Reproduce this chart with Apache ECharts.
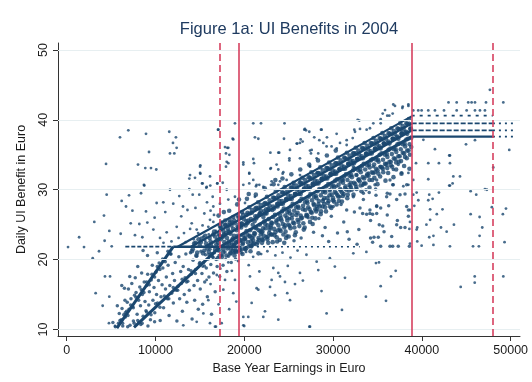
<!DOCTYPE html>
<html>
<head>
<meta charset="utf-8">
<script src="https://cdn.jsdelivr.net/npm/echarts@6/dist/echarts.min.js"></script>
<style>
  html, body { margin: 0; padding: 0; background: #ffffff; }
  #chart { width: 532px; height: 382px; }
</style>
</head>
<body>
<div id="chart"></div>
<script>
// Axis ticks
const xTicks = [0, 10000, 20000, 30000, 40000, 50000];
const yTicks = [10, 20, 30, 40, 50];

// Earnings thresholds (vertical reference lines)
const cutoffsSolid = [19400, 38850];
const cutoffsDashed = [17200, 48000];

// Benefit schedule segments [earnings, daily benefit]
const lowerSlopeA = [[5650, 10.2], [12000, 21.85]];
const lowerSlopeB = [[7580, 10.3], [17300, 21.85]];
const floorRowCore = [[12000, 21.85], [19400, 21.85]];
const floorRowLeft = [[6600, 21.85], [12000, 21.85]];
const floorRowRight = [[19400, 21.85], [33000, 21.85]];
const band1 = [[17300, 21.85], [38850, 37.6]];
const band2 = [[15600, 21.85], [38850, 38.5]];
const band3 = [[14000, 21.85], [38850, 39.5]];
const band4 = [[12500, 21.85], [38850, 40.5]];
const capLevels = [37.6, 38.5, 39.5, 40.6];
const capStart = 38850, capEnd = 48000, capTail = 50600;

// Individual observations [earnings, daily benefit]
const farLeft = [[150,21.8],[1400,23.2],[1950,21.8],[2930,20.2],[3110,25.4],[3260,15.2],[3640,21.2],[4050,13.4],[4200,26.3],[4270,22.7],[4310,17.6],[4430,33.7],[4500,29.3],[4800,24.1],[4800,14.7],[4880,17.6],[4760,10.9],[5440,10.5]];

const lowerWedge = [[5200,11.0],[5480,10.4],[5830,10.9],[5920,12.3],[6140,11.4],[6230,13.0],[6310,10.5],[6420,12.1],[6560,14.2],[6610,11.8],[6740,12.6],[6820,13.9],[6950,15.8],[7010,12.9],[7130,10.6],[7240,14.4],[7330,16.6],[7420,13.3],[7510,11.2],[7640,14.9],[7720,17.4],[7810,15.3],[7930,12.2],[8020,14.6],[8140,11.0],[8230,16.1],[8310,13.4],[8440,18.1],[8520,15.0],[8610,11.9],[8730,16.8],[8820,14.0],[8930,12.7],[9010,16.3],[9120,17.9],[9240,13.5],[9310,15.4],[9430,11.4],[9520,17.1],[9640,19.2],[9710,14.2],[9830,16.0],[9920,12.4],[10040,18.2],[10120,15.0],[10230,13.8],[10340,17.0],[10410,19.5],[10530,11.3],[10620,14.7],[10740,16.4],[10830,18.8],[10910,13.1],[11040,20.0],[11130,15.8],[11220,17.5],[11340,14.4],[11420,19.2],[11530,12.0],[11610,16.3],[11740,20.8],[11820,15.2],[11930,18.0],[12010,13.8],[12140,17.0],[12220,19.6],[12330,15.6],[12410,11.2],[12540,16.2],[12630,20.4],[12720,14.4],[12840,18.3],[12910,16.6],[13030,12.6],[13120,19.0],[13240,15.0],[13330,17.4],[13420,20.8],[13530,13.9],[13640,16.9],[13720,18.6],[13810,15.6],[13940,21.0],[14030,17.9],[14120,11.5],[14230,19.9],[14340,16.3],[14410,14.2],[14520,18.6],[14630,20.5],[14740,17.0],[14820,12.9],[14930,19.4],[15040,15.8],[15120,21.2],[15230,18.0],[15310,13.6],[15420,19.6],[15540,16.8],[15630,20.7],[15720,18.8],[15840,14.7],[15930,20.1],[16020,17.5],[16140,21.5],[16230,19.3],[16310,12.2],[16420,20.4],[16530,18.1],[16640,21.0],[16720,15.4],[16830,20.0],[16940,19.0],[17020,21.3],[17230,17.6],[17420,20.6],[17610,19.2],[17830,21.1],[18040,18.3],[18220,20.5],[18530,19.6],[18840,21.0],[19020,20.1],[19330,21.2],[6870,10.4],[7600,10.9],[8350,10.7],[9150,10.5],[9900,11.1],[6500,15.9],[7100,17.6],[5700,13.4],[6200,16.3],[8000,19.0],[9100,20.6],[10200,21.0],[8600,21.3]];

// Observations sitting right on the two lower schedule slopes
const slopeFuzz = [[6000,11.3],[6300,10.9],[6600,12.4],[6900,12.0],[7200,13.5],[7500,13.1],[7800,14.6],[8100,14.2],[8400,15.7],[8700,15.3],[9000,16.8],[9300,16.4],[9600,17.9],[9900,17.5],[10200,19.0],[10500,18.6],[10800,20.1],[11100,19.7],[11400,21.2],[11700,20.8],
[8000,11.3],[8500,10.9],[9000,12.5],[9500,12.1],[10000,13.7],[10500,13.2],[11000,14.8],[11500,14.4],[12000,16.0],[12500,15.6],[13000,17.2],[13500,16.8],[14000,18.4],[14500,18.0],[15000,19.6],[15500,19.1],[16000,20.7],[16500,20.3],[17000,21.8]];

const upperLeft = [[6000,37.5],[6940,38.5],[8930,38.0],[11550,38.3],[12300,37.5],[11970,36.7],[12380,36.0],[9270,35.4],[11630,35.2],[12120,35.2],[8030,33.6],[8850,33.1],[9490,33.1],[10090,32.9],[15050,33.5],[13890,32.1],[14450,31.7],[15050,32.3],[16140,31.9],[8740,30.6],[15240,30.9],[15720,30.3],[16170,30.6],[13810,31.6],[8700,30.7],[7020,29.2],[8370,29.5],[11630,30.0],[12680,29.1],[13810,30.1],[14190,29.3],[14930,29.3],[15310,30.9],[15770,30.4],[6190,28.4],[6680,27.6],[10130,28.1],[10880,28.2],[8930,26.9],[6080,23.7],[7210,25.2],[8180,25.1],[9080,25.3],[7690,23.5],[8520,23.2],[9760,24.3],[10510,23.1],[11260,23.9],[12390,24.7],[13210,23.8],[14080,25.2],[14640,24.3],[15390,23.3],[15950,24.7],[16510,25.4],[5070,21.9],[15020,33.3],[15020,32.4],[16140,25.7],[16510,27.6],[16590,26.4],[16440,29.0],[16960,30.9],[17040,38.6],[11800,22.6],[12600,23.1],[13400,22.5],[13900,24.4],[14300,22.9],[14800,23.8],[15300,24.9],[15600,22.7],[16000,23.6],[16400,22.4],[16800,24.1],[10900,22.4],[9900,26.0],[11100,26.8],[12900,26.2],[13600,27.1],[14500,27.4],[15500,26.6],[15800,28.2],[16200,27.0],[7400,27.0],[12000,28.0],[13100,27.6]];

const bandCore = [[17050,22.4],[17150,23.6],[17250,24.8],[17350,22.9],[17450,25.3],[17550,23.2],[17650,24.1],[17750,22.5],[17850,25.6],[17950,23.8],[17100,26.3],[17700,26.8],
[18050,23.1],[18150,24.4],[18250,22.6],[18350,25.7],[18450,23.7],[18550,24.9],[18650,22.8],[18750,26.1],[18850,23.4],[18950,25.2],[18300,27.0],[18700,21.3],[18900,20.6],[18400,20.9],
[19050,22.4],[19150,24.2],[19250,26.3],[19350,23.1],[19450,25.1],[19550,22.7],[19650,24.6],[19750,26.8],[19850,23.5],[19950,25.8],[19200,27.9],[19600,21.3],[19800,20.8],[19400,28.6],
[20050,22.9],[20150,24.9],[20250,26.4],[20350,23.6],[20450,25.6],[20550,27.5],[20650,24.2],[20750,22.6],[20850,26.7],[20950,25.0],[20300,28.7],[20700,21.2],[20500,29.4],
[21050,23.4],[21150,25.5],[21250,27.3],[21350,24.5],[21450,26.2],[21550,28.2],[21650,22.8],[21750,25.0],[21850,27.0],[21950,23.9],[21300,29.3],[21800,26.6],[21600,20.9],
[22050,24.0],[22150,26.1],[22250,28.0],[22350,25.1],[22450,27.2],[22550,29.0],[22650,23.3],[22750,25.8],[22850,27.7],[22950,24.6],[22300,30.2],[22700,22.4],[22500,26.6],
[23050,25.3],[23150,27.1],[23250,28.9],[23350,24.4],[23450,26.4],[23550,29.8],[23650,23.2],[23750,27.6],[23850,25.8],[23950,28.4],[23300,30.8],[23700,22.6],[23500,31.4],
[24050,26.3],[24150,28.0],[24250,29.6],[24350,25.1],[24450,27.3],[24550,30.4],[24650,24.0],[24750,28.6],[24850,26.8],[24950,29.2],[24300,31.6],[24700,23.1],[24500,22.4],
[25050,27.0],[25150,28.7],[25250,30.3],[25350,25.9],[25450,28.0],[25550,31.0],[25650,24.6],[25750,29.4],[25850,27.5],[25950,30.0],[25300,32.2],[25700,23.5],
[26050,27.6],[26150,29.4],[26250,31.0],[26350,26.3],[26450,28.7],[26550,31.7],[26650,25.2],[26750,30.1],[26850,28.2],[26950,30.6],[26300,32.9],[26700,24.3],
[27050,28.4],[27150,30.1],[27250,31.8],[27350,27.2],[27450,29.4],[27550,32.5],[27650,26.0],[27750,30.7],[27850,29.0],[27950,31.3],[27300,33.6],[27700,25.1],
[28050,29.1],[28150,30.9],[28250,32.4],[28350,27.9],[28450,30.1],[28550,33.2],[28650,26.9],[28750,31.5],[28850,29.7],[28950,32.0],[28300,34.2],
[29050,29.9],[29150,31.6],[29250,33.1],[29350,28.8],[29450,30.8],[29550,33.9],[29650,27.6],[29750,32.2],[29850,30.5],[29950,32.8],[29300,34.9],
[30050,30.6],[30150,32.3],[30250,33.8],[30350,29.5],[30450,31.5],[30550,34.6],[30650,28.4],[30750,32.9],[30850,31.2],[30950,33.5],[30300,35.6],
[31050,31.4],[31150,33.0],[31250,34.6],[31350,30.2],[31450,32.2],[31550,35.3],[31650,29.3],[31750,33.6],[31850,32.0],[31950,34.2],
[32050,32.1],[32150,33.8],[32250,35.2],[32350,31.0],[32450,33.0],[32550,36.0],[32650,30.1],[32750,34.4],[32850,32.8],[32950,35.0],
[33050,32.9],[33150,34.5],[33250,36.0],[33350,31.8],[33450,33.7],[33550,36.7],[33650,30.9],[33750,35.1],[33850,33.5],[33950,35.8],
[34050,33.6],[34150,35.2],[34250,36.7],[34350,32.5],[34450,34.4],[34550,37.4],[34650,31.7],[34750,35.9],[34850,34.3],[34950,36.5],
[35050,34.3],[35150,36.0],[35250,37.4],[35350,33.3],[35450,35.2],[35550,38.1],[35650,32.5],[35750,36.6],[35850,35.0],[35950,37.3],
[36050,35.1],[36150,36.7],[36250,38.1],[36350,34.0],[36450,35.9],[36550,38.8],[36650,33.3],[36750,37.3],[36850,35.8],[36950,38.0],
[37050,35.8],[37150,37.5],[37250,38.8],[37350,34.8],[37450,36.6],[37550,39.5],[37650,34.1],[37750,38.1],[37850,36.5],[37950,38.7],
[38050,36.6],[38150,38.2],[38250,39.5],[38350,35.6],[38450,37.3],[38550,40.1],[38650,35.0],[38750,38.8],[38800,37.4]];

// Further observations packed along the tax-class bands
const bandDense = [[14100,21.2],[14350,22.3],[14600,20.6],[14850,22.9],
[15100,22.5],[15350,20.9],[15600,23.4],[15850,21.6],
[16100,23.1],[16350,20.8],[16600,24.0],[16850,22.2],[16250,22.0],[16700,23.3],
[17100,22.9],[17350,24.4],[17600,21.0],[17850,24.9],[17200,20.5],[17700,23.5],
[18100,21.6],[18350,23.9],[18600,25.3],[18850,22.1],[18200,24.9],[18700,23.0],
[19100,21.1],[19350,24.6],[19600,26.0],[19850,22.4],[19250,23.4],[19700,25.2],
[20100,21.5],[20350,25.2],[20600,26.6],[20850,23.1],[20250,24.1],[20700,22.0],
[21100,22.3],[21350,25.9],[21600,27.4],[21850,23.6],[21250,24.6],[21700,26.4],
[22100,22.8],[22350,26.6],[22600,28.0],[22850,24.3],[22250,25.5],[22700,27.1],
[23100,23.6],[23350,27.3],[23600,28.8],[23850,24.9],[23250,26.1],[23700,27.9],
[24100,24.1],[24350,28.0],[24600,29.5],[24850,25.6],[24250,26.9],[24700,28.6],
[25100,24.8],[25350,28.7],[25600,30.2],[25850,26.4],[25250,27.6],[25700,29.4],
[26100,25.4],[26350,29.4],[26600,30.9],[26850,27.1],[26250,28.4],[26700,30.0],
[27100,26.3],[27350,30.2],[27600,31.6],[27850,27.8],[27250,29.0],[27700,30.8],
[28100,26.9],[28350,30.9],[28600,32.3],[28850,28.4],[28250,29.8],[28700,31.5],
[29100,27.5],[29350,31.6],[29600,33.0],[29850,29.3],[29250,30.5],[29700,32.2],
[30100,28.3],[30350,32.3],[30600,33.8],[30850,29.9],[30250,31.3],[30700,32.9],
[31100,29.1],[31350,33.0],[31600,34.4],[31850,30.7],[31250,31.9],[31700,33.7],
[32100,30.0],[32350,33.8],[32600,35.2],[32850,31.4],[32250,32.8],[32700,34.4],
[33100,30.6],[33350,34.5],[33600,35.9],[33850,32.2],[33250,33.4],[33700,35.1],
[34100,31.4],[34350,35.2],[34600,36.6],[34850,33.0],[34250,34.2],[34700,35.8],
[35100,32.3],[35350,35.9],[35600,37.3],[35850,33.7],[35250,35.0],[35700,36.6],
[36100,33.1],[36350,36.6],[36600,38.0],[36850,34.5],[36250,35.7],[36700,37.3],
[37100,33.9],[37350,37.3],[37600,38.7],[37850,35.3],[37250,36.5],[37700,38.0],
[38100,34.7],[38350,38.0],[38600,39.4],[38800,36.1],[38250,37.2],[38700,38.7]];

const bandFill = [[17000,20.2],[17120,21.3],[17240,23.4],[17360,24.7],
[17500,20.4],[17620,21.5],[17740,23.6],[17860,25.0],
[18000,20.6],[18120,21.9],[18240,24.0],[18360,25.3],
[18500,20.9],[18620,22.2],[18740,24.4],[18860,25.6],
[19000,21.2],[19120,22.5],[19240,24.7],[19360,26.0],
[19500,21.4],[19620,22.8],[19740,25.1],[19860,26.4],
[20000,21.6],[20120,23.1],[20240,25.5],[20360,26.7],
[20500,21.9],[20620,23.4],[20740,25.8],[20860,27.1],
[21000,22.2],[21120,23.8],[21240,26.2],[21360,27.4],
[21500,22.5],[21620,24.2],[21740,26.6],[21860,27.8],
[22000,22.9],[22120,24.5],[22240,26.9],[22360,28.1],
[22500,23.2],[22620,24.9],[22740,27.3],[22860,28.5],
[23000,23.6],[23120,25.2],[23240,27.6],[23360,28.8],
[23500,23.9],[23620,25.6],[23740,28.0],[23860,29.2],
[24000,24.3],[24120,25.9],[24240,28.4],[24360,29.6],
[24500,24.6],[24620,26.3],[24740,28.7],[24860,29.9],
[25000,25.0],[25120,26.6],[25240,29.1],[25360,30.3],
[25500,25.3],[25620,27.0],[25740,29.4],[25860,30.6],
[26000,25.7],[26120,27.4],[26240,29.8],[26360,31.0],
[26500,26.0],[26620,27.7],[26740,30.2],[26860,31.4],
[27000,26.4],[27120,28.1],[27240,30.5],[27360,31.7],
[27500,26.8],[27620,28.5],[27740,30.9],[27860,32.1],
[28000,27.2],[28120,28.8],[28240,31.2],[28360,32.4],
[28500,27.6],[28620,29.2],[28740,31.6],[28860,32.8],
[29000,28.0],[29120,29.6],[29240,31.9],[29360,33.1],
[29500,28.4],[29620,29.9],[29740,32.3],[29860,33.5],
[30000,28.8],[30120,30.3],[30240,32.6],[30360,33.8],
[30500,29.2],[30620,30.7],[30740,33.0],[30860,34.2],
[31000,29.6],[31120,31.0],[31240,33.3],[31360,34.5],
[31500,30.0],[31620,31.4],[31740,33.7],[31860,34.9],
[32000,30.4],[32120,31.8],[32240,34.1],[32360,35.2],
[32500,30.8],[32620,32.1],[32740,34.4],[32860,35.6],
[33000,31.2],[33120,32.5],[33240,34.8],[33360,35.9],
[33500,31.6],[33620,32.9],[33740,35.2],[33860,36.3],
[34000,32.0],[34120,33.2],[34240,35.5],[34360,36.6],
[34500,32.4],[34620,33.6],[34740,35.9],[34860,37.0],
[35000,32.8],[35120,34.0],[35240,36.2],[35360,37.3],
[35500,33.2],[35620,34.3],[35740,36.6],[35860,37.7],
[36000,33.6],[36120,34.7],[36240,36.9],[36360,38.0],
[36500,34.0],[36620,35.1],[36740,37.3],[36860,38.4],
[37000,34.4],[37120,35.4],[37240,37.6],[37360,38.7],
[37500,34.8],[37620,35.8],[37740,38.0],[37860,39.1],
[38000,35.2],[38120,36.2],[38240,38.3],[38360,39.4],
[38500,35.6],[38620,36.5],[38740,38.7]];

// Observations under the lowest band, above the floor row
const bandLower = [[14200,21.5],[14500,22.4],[14700,21.0],[15000,22.0],[15200,23.0],[15500,21.3],[15700,22.3],[16000,21.1],[16200,22.6],[16500,23.6],[16700,21.4],[16900,22.8],
[18300,22.3],[18500,21.5],[18800,22.0],[19000,21.4],[19300,22.6],[19500,21.7],[19800,22.2],[20000,23.0],[20200,21.6],[20400,22.5],[20600,23.3],[20800,21.9],[21000,22.8],[21200,23.7],[21400,22.2],[21600,23.1],[21800,24.1],[22000,22.4],[22200,23.4],[22400,24.5],[22600,22.9],[22800,23.8],[23000,24.9],[23200,22.5],[23400,23.5],[23600,25.3],[23800,24.2],[24000,22.8],[24200,25.6],[24400,23.6],[24600,24.9],[24800,26.0],[25000,23.3],[25200,24.5],[25400,26.4],[25600,25.2],[25800,23.9],[26000,26.7],[26200,24.8],[26400,25.9],[26600,27.2],[26800,24.6],[27000,26.2],[27200,27.5],[27400,25.4],[27600,26.7],[27800,28.0],[28000,25.9],[28200,27.2],[28400,28.4],[28600,26.5],[28800,27.6],[29000,28.8],[29200,26.9],[29400,28.1],[29600,29.2],[29800,27.4],[30000,28.5],[30200,29.7],[30400,27.9],[30600,29.0],[30800,30.1],[31000,28.3],[31200,29.4],[31400,30.5],[31600,28.8],[31800,29.9],[32000,31.0],[32300,29.3],[32600,30.4],[32900,31.5],[33200,29.8],[33500,30.9],[33800,32.0],[34100,30.3],[34400,31.4],[34700,32.5],[35000,30.8],[35300,31.9],[35600,33.0],[35900,31.3],[36200,32.4],[36500,33.5],[36800,31.8],[37100,32.9],[37400,34.0],[37700,32.3],[38000,33.4],[38300,34.5],[38600,33.0]];

const belowBand = [[15310,19.0],[15760,17.1],[15950,14.2],[15390,12.3],[16810,10.4],[17830,17.1],[17640,15.7],[18760,15.2],[18950,17.1],[19890,11.8],[19890,10.6],[20450,11.8],[20640,17.6],[20830,13.8],[21390,15.9],[21580,15.7],[22140,11.8],[22330,12.6],[23080,17.1],[23270,18.8],[23830,18.1],[24020,17.6],[23460,14.9],[23830,11.4],[24580,16.8],[24840,15.2],[25150,14.2],[25710,16.5],[26270,18.1],[27400,10.4],[28150,19.7],[28330,18.5],[29270,12.3],[31340,17.4],[32280,20.9],[29640,20.2],[19990,10.5],[27330,10.4],[13130,10.6],[14640,11.1],[16140,10.9],[17450,10.9],[16700,10.4],[34830,19.5],[35170,19.6],[37050,18.4],[36520,17.6],[35360,16.2],[33700,14.7],[35960,14.1],[33750,21.1],[19700,20.9],[20200,21.1],[21000,20.4],[21900,20.8],[22600,21.2],[23500,20.6],[24300,21.0],[25200,20.3],[26000,21.3],[27000,20.7],[19300,19.8],[20500,19.2],[18200,19.6],[18600,18.4],[17900,20.1],[17300,18.7],[16900,17.8],[16200,16.5],[17100,13.6],[18300,12.9],[19100,14.0],[21700,18.3],[22900,16.1],[24900,19.1],[26600,17.0],[28700,15.5],[30200,19.0],[31000,12.8]];

const aboveBand = [[17080,38.6],[18950,39.5],[21010,39.5],[21880,39.5],[24530,39.5],[18690,37.3],[17830,36.1],[18090,36.0],[18320,35.0],[18020,34.0],[17940,33.3],[21200,37.5],[21580,37.3],[24470,37.3],[26760,38.6],[26950,38.5],[27880,37.5],[28640,38.6],[29310,37.5],[26270,36.7],[25900,36.6],[25150,35.7],[21010,34.4],[19890,33.6],[20560,32.4],[21690,30.7],[23000,33.1],[23640,33.6],[23930,35.3],[24390,32.5],[25080,34.5],[26270,34.5],[27400,35.6],[27510,35.2],[28150,34.5],[27400,33.4],[29270,36.2],[29830,36.2],[30400,35.9],[28450,37.1],[28330,35.2],[31530,37.1],[32390,38.6],[32770,40.0],[26270,32.1],[21010,31.4],[23830,30.7],[23000,30.7],[19890,30.7],[21320,30.5],[26830,38.7],[27320,38.3],[26350,37.2],[18760,37.2],[18200,36.0],[17940,35.2],[18200,33.8],[19890,33.9],[21090,33.8],[20560,32.3],[22940,35.3],[23830,35.3],[22940,33.0],[23830,32.9],[24320,32.3],[25080,34.2],[25970,36.6],[26570,36.9],[16960,30.9],[17570,31.0],[18020,30.0],[17260,28.0],[18200,28.6],[18950,29.0],[20080,28.1],[20560,30.9],[21390,30.7],[21200,29.0],[22140,30.4],[23080,31.2],[24020,31.2],[24770,31.4],[25520,30.7],[26270,31.4],[27400,33.3],[28150,32.4],[36970,42.0],[37840,41.9],[38480,42.0],[35590,40.9],[36100,40.6],[36710,40.9],[32950,39.9],[35360,39.5],[32470,38.3],[33030,38.7],[32210,37.4],[28710,38.6],[30400,38.0],[30780,36.7],[31530,36.4],[28900,36.7],[27590,35.7],[35850,41.4],[36780,42.2],[37800,41.7],[38480,42.2],[36330,40.6],[35360,40.1],[34530,39.5],[33780,38.6],[34150,38.8]];

const lowerRight = [[32280,33.3],[32660,32.1],[33970,32.4],[34530,33.3],[35280,33.3],[36030,33.8],[36780,32.9],[37340,33.6],[37720,32.4],[36410,31.4],[34910,31.4],[33410,30.9],[31900,30.5],[31150,31.4],[30400,30.5],[29650,30.0],[30780,29.0],[32280,29.0],[33410,28.6],[34910,27.6],[36030,29.0],[37160,28.6],[38290,27.6],[28900,28.6],[28150,27.6],[30020,27.6],[31530,27.1],[33030,27.4],[34150,27.1],[33330,30.6],[34720,30.7],[36780,30.7],[38290,30.7],[33410,29.5],[33700,30.0],[34070,29.6],[34790,30.1],[34830,29.2],[34910,27.7],[35360,27.4],[36100,29.5],[36410,29.4],[36260,27.7],[36710,30.7],[37540,29.3],[38100,29.4],[33330,26.6],[33780,26.5],[34150,26.6],[34450,26.5],[34910,26.6],[36100,26.4],[38480,27.1],[38480,26.2],[37240,25.6],[34220,25.6],[35200,25.0],[35590,24.8],[37160,25.0],[37610,24.6],[38100,24.6],[35740,24.0],[34610,23.2],[35090,23.2],[36600,23.3],[34220,23.1],[34450,22.5],[35360,21.9],[36410,21.9],[36710,21.9],[37340,21.9],[38590,21.9],[28400,25.9],[29100,24.6],[29800,26.2],[30500,23.8],[31200,25.4],[31800,22.9],[32400,26.8],[32900,24.3],[29500,22.6],[30900,27.9],[31600,24.0],[32700,22.2],[28800,23.4],[27800,23.9],[27200,26.0],[26400,23.1],[25600,22.7],[24800,23.4],[25100,25.9]];

const rightCloud = [[39030,29.3],[39410,29.6],[40830,29.3],[41920,29.6],[43160,30.6],[43460,30.9],[45490,29.8],[46120,29.3],[47320,30.0],[40720,28.5],[41210,28.7],[39600,28.5],[39150,27.7],[38660,27.1],[38660,25.4],[38590,24.4],[38660,22.3],[40930,27.2],[41680,26.5],[42320,27.2],[40930,25.7],[40510,25.0],[42150,24.6],[42790,24.0],[43610,25.0],[39480,24.6],[39410,24.3],[41300,23.4],[40830,23.2],[39480,22.6],[39970,22.0],[41300,22.1],[43160,21.9],[45490,26.5],[46500,26.1],[46800,24.6],[46500,23.4],[45760,21.9],[46420,21.9],[47880,27.5],[49120,26.5],[49470,27.3],[49310,22.5],[44370,16.1],[45950,17.6],[45950,16.7],[49170,17.6],[40170,37.15],[41470,35.8],[43160,34.9],[44970,36.5],[45980,37.1],[49840,35.7],[39340,33.8],[40720,33.8],[41920,33.8],[43080,34.9],[43160,33.8],[40720,31.5],[43540,31.9],[43080,30.6],[44290,31.9],[47100,30.1],[48040,33.2],[38480,32.4],[38480,30.7],[37910,30.5],[39030,31.4],[47660,44.3],[49170,42.5],[43000,42.5],[43920,42.5],[45220,42.5],[45600,42.5],[45980,42.5],[47220,42.5],[39030,41.35],[39590,41.35],[39970,41.35],[40720,41.35],[41470,41.35],[42490,41.35],[43920,41.35],[45040,41.35],[45980,41.35],[46540,41.35],[47100,41.35]];

const navy = '#1a476f';
const cranberry = '#d6405f';

function seg(points, width, dash) {
  return {
    type: 'line', data: points, showSymbol: false, silent: true, z: 3,
    animation: false,
    lineStyle: { color: navy, width: width, type: dash || 'solid' }
  };
}

function dots(points, size) {
  return {
    type: 'scatter', data: points, silent: true, z: 2,
    symbol: 'circle', symbolSize: size, itemStyle: { color: navy }
  };
}

const scheduleSeries = [
  seg(lowerSlopeA, 3),
  seg(lowerSlopeB, 3),
  seg(floorRowCore, 2.6),
  seg(floorRowLeft, 1.8, [4, 2]),
  seg(floorRowRight, 1.5, [2, 4]),
  seg(band1, 3),
  seg(band2, 2.6),
  seg(band3, 2.4),
  seg(band4, 2.2)
];
capLevels.forEach(function (lvl, i) {
  const dash = i === 0 ? 'solid' : (i === 3 ? [3, 5] : [5, 2]);
  scheduleSeries.push(seg([[capStart, lvl], [capEnd, lvl]], i === 0 ? 2.2 : 1.8, dash));
  if (i < 3) scheduleSeries.push(seg([[capEnd, lvl], [capTail, lvl]], 1.6, [2, 4]));
});

const sparseObs = [].concat(farLeft, upperLeft, belowBand, aboveBand, rightCloud);
const wedgeObs = [].concat(lowerWedge, lowerRight, slopeFuzz);
const denseObs = [].concat(bandCore, bandDense, bandFill, bandLower);

const chart = echarts.init(document.getElementById('chart'), null, { renderer: 'canvas' });
chart.setOption({
  animation: false,
  backgroundColor: '#ffffff',
  textStyle: { fontFamily: 'Liberation Sans, Arial, sans-serif' },
  title: {
    text: 'Figure 1a: UI Benefits in 2004',
    left: 284, top: 16, textAlign: 'center',
    textStyle: { fontFamily: 'Liberation Sans, Arial, sans-serif', fontSize: 16.5, fontWeight: 'normal', color: '#1f3b60' }
  },
  grid: { left: 58, right: 12, top: 43, bottom: 46 },
  xAxis: {
    type: 'value', min: -980, max: 51050,
    name: 'Base Year Earnings in Euro', nameLocation: 'middle', nameGap: 22,
    nameTextStyle: { fontSize: 12.5, color: '#1a1a1a' },
    axisLine: { show: true, onZero: false, lineStyle: { color: '#333333', width: 1 } },
    axisTick: { show: true, length: 5, customValues: xTicks, lineStyle: { color: '#333333' } },
    axisLabel: { customValues: xTicks, fontSize: 12.5, color: '#1a1a1a', margin: 8, formatter: function (v) { return String(v); } },
    splitLine: { show: false }
  },
  yAxis: {
    type: 'value', min: 9.07, max: 51,
    name: 'Daily UI Benefit in Euro', nameLocation: 'middle', nameGap: 30,
    nameTextStyle: { fontSize: 12.5, color: '#1a1a1a' },
    axisLine: { show: true, onZero: false, lineStyle: { color: '#333333', width: 1 } },
    axisTick: { show: true, length: 5, customValues: yTicks, lineStyle: { color: '#333333' } },
    axisLabel: { customValues: yTicks, rotate: 90, fontSize: 12.5, color: '#1a1a1a', margin: 8 },
    splitLine: { show: false }
  },
  series: [
    {
      type: 'scatter', data: [], silent: true, z: 1,
      markLine: {
        silent: true, symbol: 'none', label: { show: false }, animation: false,
        lineStyle: { color: '#e7eff1', width: 1.2, type: 'solid' },
        data: yTicks.map(function (v) { return { yAxis: v }; })
      }
    },
    dots(sparseObs, 2.8),
    dots(wedgeObs, 3.5),
    dots(denseObs, 4.6)
  ].concat(scheduleSeries).concat([
    {
      type: 'scatter', data: [], silent: true, z: 5,
      markLine: {
        silent: true, symbol: 'none', label: { show: false }, animation: false,
        data: cutoffsSolid.map(function (v) {
          return { xAxis: v, lineStyle: { color: cranberry, width: 1.6, type: 'solid' } };
        }).concat(cutoffsDashed.map(function (v) {
          return { xAxis: v, lineStyle: { color: cranberry, width: 1.6, type: [7, 4] } };
        }))
      }
    }
  ])
});
</script>
</body>
</html>
